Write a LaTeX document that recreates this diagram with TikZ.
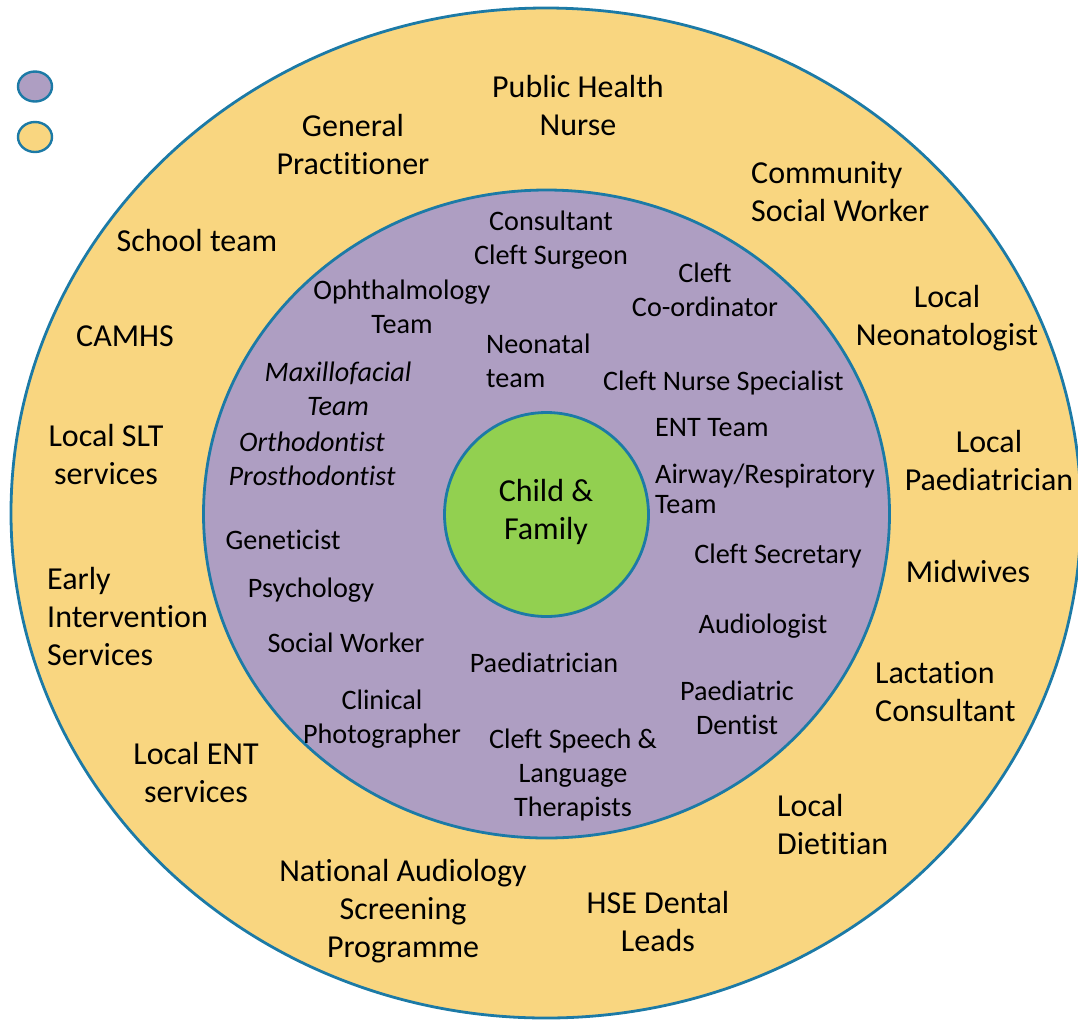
\documentclass[tikz,border=0pt]{standalone}
\usepackage{fontspec}
\setmainfont{Carlito}[Ligatures=NoCommon]
\usepackage{tikz}
\usetikzlibrary{positioning}

\definecolor{ringline}{RGB}{28,122,166}
\definecolor{outerfill}{RGB}{249,214,128}
\definecolor{innerfill}{RGB}{174,158,194}
\definecolor{corefill}{RGB}{146,208,80}

\begin{document}
\begin{tikzpicture}[x=1pt, y=-1pt]
  \tikzset{ring/.style={draw=ringline, line width=2.8pt}}
  \tikzset{outertext/.style={align=center, inner sep=0pt, font=\fontsize{32}{38}\selectfont}}
  \tikzset{innertext/.style={align=center, inner sep=0pt, font=\fontsize{28.2}{34}\selectfont}}
  \tikzset{lefttext/.style={align=left, anchor=west}}

  \useasboundingbox (0,0) rectangle (1078,1021);

  \draw[ring, fill=outerfill] (546,513) ellipse [x radius=535, y radius=505];
  \draw[ring, fill=innerfill] (546.5,514) ellipse [x radius=343, y radius=324];
  \draw[ring, fill=corefill] (546.5,514.5) circle [radius=102];
  \draw[ring, line width=2.4pt, fill=innerfill] (35,86.5) ellipse [x radius=17, y radius=15];
  \draw[ring, line width=2.4pt, fill=outerfill] (35,137) ellipse [x radius=17, y radius=15];

  \node[outertext] (core) at (546,512) {Child \&\\Family};

  \node[outertext] (phn) at (578,106) {Public Health\\Nurse};
  \node[outertext] (gp) at (353,145) {General\\Practitioner};
  \node[outertext, lefttext] (csw) at (751,192) {Community\\Social Worker};
  \node[outertext] (school) at (197,240) {School team};
  \node[outertext] (camhs) at (125,336) {CAMHS};
  \node[outertext] (neo) at (947,318) {Local\\Neonatologist};
  \node[outertext] (slt) at (106,454) {Local SLT\\services};
  \node[outertext] (paed) at (989,460) {Local\\Paediatrician};
  \node[outertext] (mid) at (968,571) {Midwives};
  \node[outertext, lefttext] (eis) at (47,616) {Early\\Intervention\\Services};
  \node[outertext, lefttext] (lact) at (875,692) {Lactation\\Consultant};
  \node[outertext] (ent) at (196,772) {Local ENT\\services};
  \node[outertext, lefttext] (diet) at (777,824) {Local\\Dietitian};
  \node[outertext] (nasp) at (403,911) {National Audiology\\Screening\\Programme};
  \node[outertext] (hse) at (658,921) {HSE Dental\\Leads};

  \node[innertext] (surgeon) at (551,240) {Consultant\\Cleft Surgeon};
  \node[innertext] (coord) at (705,290) {Cleft\\Co-ordinator};
  \node[innertext] (ophth) at (402,307) {Ophthalmology\\Team};
  \node[innertext, lefttext] (neoteam) at (486,361) {Neonatal\\team};
  \node[innertext, lefttext] (nurse) at (603,383) {Cleft Nurse Specialist};
  \node[innertext, font=\fontsize{28.2}{34}\selectfont\itshape] (maxfac) at (338,389) {Maxillofacial\\Team};
  \node[innertext, lefttext] (entteam) at (655,428) {ENT Team};
  \node[innertext, font=\fontsize{28.2}{34}\selectfont\itshape] (ortho) at (312,459) {Orthodontist\\Prosthodontist};
  \node[innertext, lefttext, font=\fontsize{28.2}{30}\selectfont] (airway) at (655,489) {Airway/Respiratory\\Team};
  \node[innertext] (genet) at (283,540) {Geneticist};
  \node[innertext] (secr) at (778,556) {Cleft Secretary};
  \node[innertext] (psych) at (311,590) {Psychology};
  \node[innertext] (audio) at (763,626) {Audiologist};
  \node[innertext] (social) at (346,643) {Social Worker};
  \node[innertext] (paedin) at (544,663) {Paediatrician};
  \node[innertext] (photo) at (382,719) {Clinical\\Photographer};
  \node[innertext] (dentist) at (737,708) {Paediatric\\Dentist};
  \node[innertext] (slts) at (573,775) {Cleft Speech \&\\Language\\Therapists};
\end{tikzpicture}
\end{document}
